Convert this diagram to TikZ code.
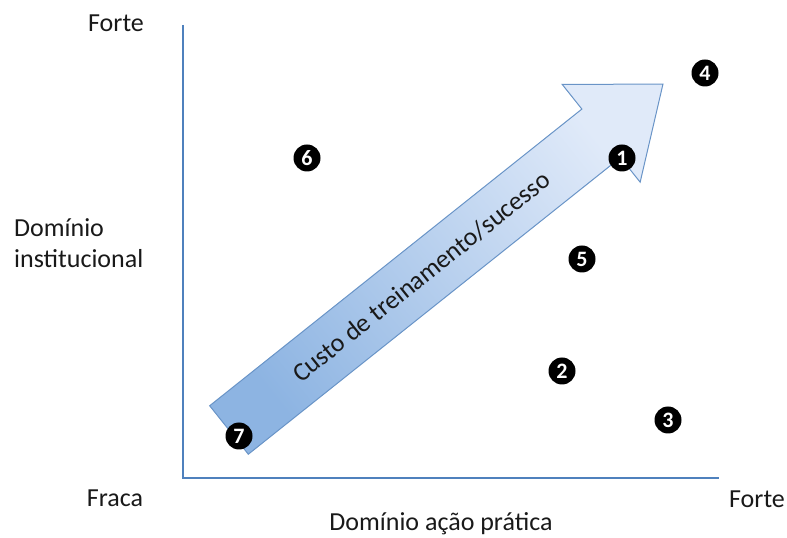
\documentclass[tikz,border=0pt]{standalone}
\usepackage{fontspec}
\setmainfont{Carlito}
\usetikzlibrary{positioning, calc}

\definecolor{axisblue}{RGB}{79,129,189}
\definecolor{arrowdark}{RGB}{141,180,226}
\definecolor{arrowlight}{RGB}{224,234,249}

\begin{document}
\begin{tikzpicture}[
    x=1pt, y=1pt,
    % Styles
    axis/.style={
        draw=axisblue,
        line width=1.6pt
    },
    label/.style={
        font=\fontsize{26}{31}\selectfont,
        text=black!90,
        inner sep=0pt
    },
    marker/.style={
        circle,
        fill=black,
        text=white,
        minimum size=27pt,
        inner sep=0pt,
        font=\fontsize{22}{22}\selectfont\bfseries
    },
    bigarrow/.style={
        draw=axisblue!85,
        line width=1pt,
        left color=arrowdark,
        right color=arrowlight,
        shading angle=128.56
    }
]
    \useasboundingbox (0,0) rectangle (787,538);

    % Axes
    \coordinate (origin) at (183,60);
    \coordinate (ytop) at (183,513);
    \coordinate (xend) at (719,60);
    \draw[axis] (ytop) -- (origin) -- (xend);

    % Axis labels
    \node[label, anchor=base] (yforte) at (116,506) {Forte};
    \node[label, align=left, anchor=south west] (ylabel) at (14,270) {Domínio\\institucional};
    \node[label, anchor=base] (fraca) at (115,31) {Fraca};
    \node[label, anchor=base] (xforte) at (757,30) {Forte};
    \node[label, anchor=base] (xlabel) at (441,7) {Domínio ação prática};

    % Arrow
    \begin{scope}[shift={(229,108)}, rotate=38.56]
        \path[bigarrow] (0,-31) -- (476,-31) -- (476,-62.5) -- (555,0)
            -- (476,62.5) -- (476,31) -- (0,31) -- cycle;
        \node[label, rotate=38.56] (cost) at (246,0) {Custo de treinamento/sucesso};
    \end{scope}

    % Markers
    \node[marker] (m1) at (622,380) {1};
    \node[marker] (m2) at (562,167) {2};
    \node[marker] (m3) at (668,118) {3};
    \node[marker] (m4) at (705,465) {4};
    \node[marker] (m5) at (582,279) {5};
    \node[marker] (m6) at (307,380) {6};
    \node[marker] (m7) at (239,102) {7};
\end{tikzpicture}
\end{document}
